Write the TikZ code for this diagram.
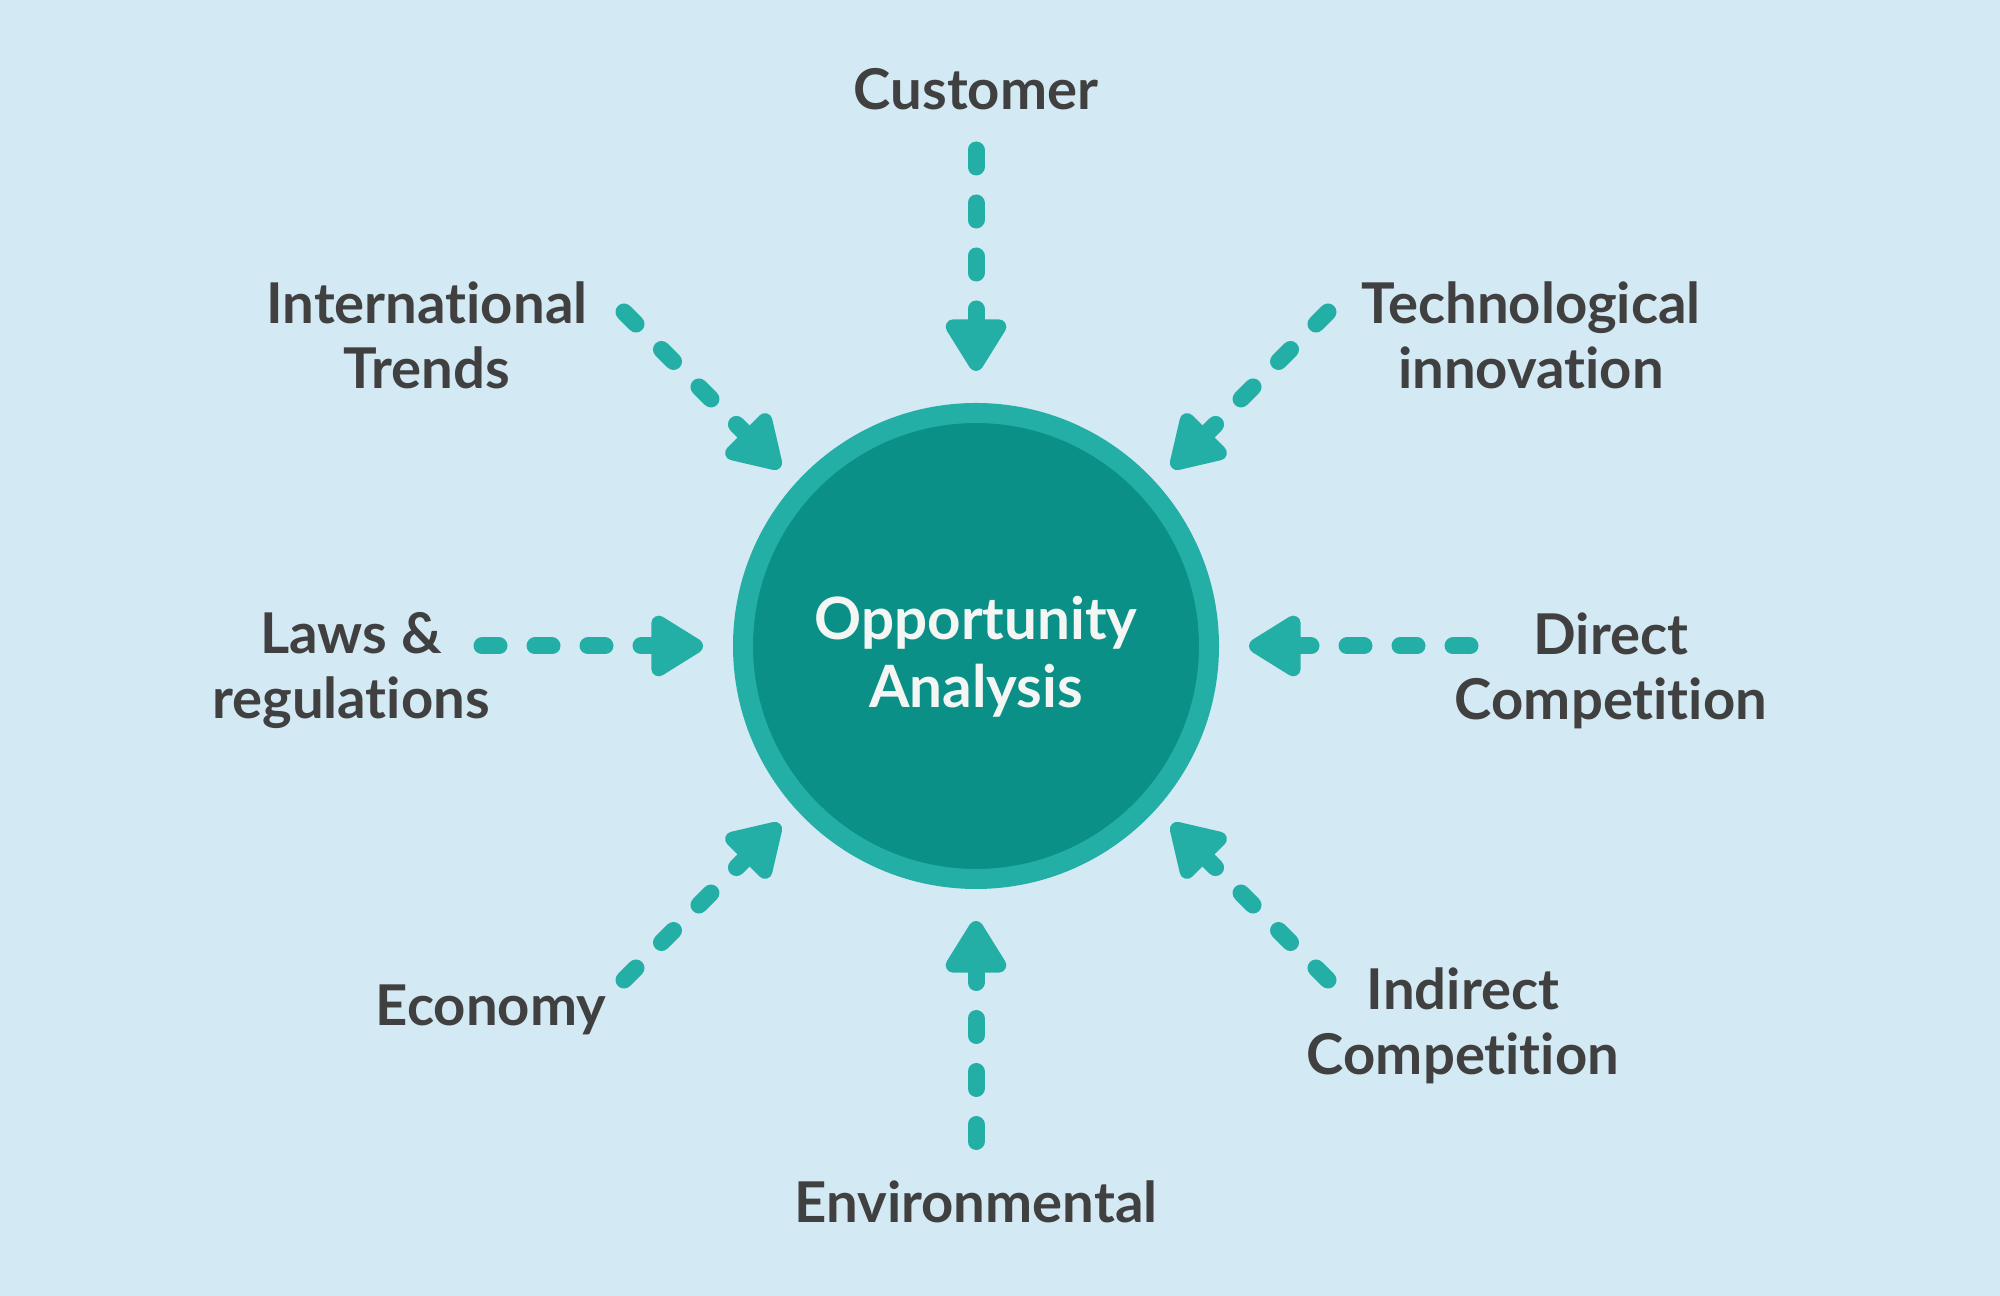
\documentclass[tikz,border=0pt]{standalone}
\usepackage{fontspec}
\setmainfont{Lato}[Ligatures=NoCommon]
\usetikzlibrary{arrows.meta}
\definecolor{bgblue}{HTML}{D3E9F3}
\definecolor{ringteal}{HTML}{23AFA5}
\definecolor{coreteal}{HTML}{0B9088}
\definecolor{txtgray}{HTML}{404040}
\definecolor{coretext}{HTML}{F4F6F4}
\begin{document}
\begin{tikzpicture}[
        lbl/.style={text=txtgray, align=center, inner sep=0pt,
            font=\bfseries\fontsize{16}{18.5}\selectfont},
        inarrow/.style={draw=ringteal, line width=1.7mm, line cap=round,
            dash pattern=on 1.7mm off 3.6mm,
            -{Triangle[length=5.9mm, width=6.8mm, round]}}
    ]
            \fill[bgblue] (0,0) rectangle (20,12.96);
            \useasboundingbox (0,0) rectangle (20,12.96);

            \node[circle, fill=coreteal, draw=ringteal, line width=2mm,
                minimum size=4.66cm, inner sep=0pt] (core) at (9.76,6.50) {};
            \node[text=coretext, align=center,
                font=\bfseries\fontsize{16.6}{19.4}\selectfont] (coretxt) at (9.76,6.39)
                {Opportunity\\Analysis};

            \node[lbl] (cust) at (9.76,12.07) {Customer};
            \node[lbl] (intl) at (4.27,9.61) {International\\Trends};
            \node[lbl] (tech) at (15.31,9.61) {Technological\\innovation};
            \node[lbl] (laws) at (3.51,6.25) {Laws \&\\regulations};
            \node[lbl] (dirc) at (16.11,6.25) {Direct\\Competition};
            \node[lbl] (econ) at (4.91,2.86) {Economy};
            \node[lbl] (indc) at (14.63,2.70) {Indirect\\Competition};
            \node[lbl] (envi) at (9.76,0.94) {Environmental};

            \coordinate (cust-s) at (9.76,11.46);
            \coordinate (cust-t) at (9.76,9.25);
            \coordinate (envi-s) at (9.76,1.545);
            \coordinate (envi-t) at (9.76,3.75);
            \coordinate (laws-s) at (4.82,6.50);
            \coordinate (laws-t) at (7.03,6.50);
            \coordinate (dirc-s) at (14.70,6.50);
            \coordinate (dirc-t) at (12.49,6.50);
            \coordinate (intl-s) at (6.24,9.84);
            \coordinate (intl-t) at (7.80,8.28);
            \coordinate (tech-s) at (13.28,9.84);
            \coordinate (tech-t) at (11.72,8.28);
            \coordinate (econ-s) at (6.24,3.16);
            \coordinate (econ-t) at (7.80,4.72);
            \coordinate (indc-s) at (13.28,3.16);
            \coordinate (indc-t) at (11.72,4.72);

            \foreach \n in {cust, envi, laws, dirc, intl, tech, econ, indc}
                {
                    \draw[inarrow] (\n-s) -- (\n-t);
                }
        \end{tikzpicture}
\end{document}
